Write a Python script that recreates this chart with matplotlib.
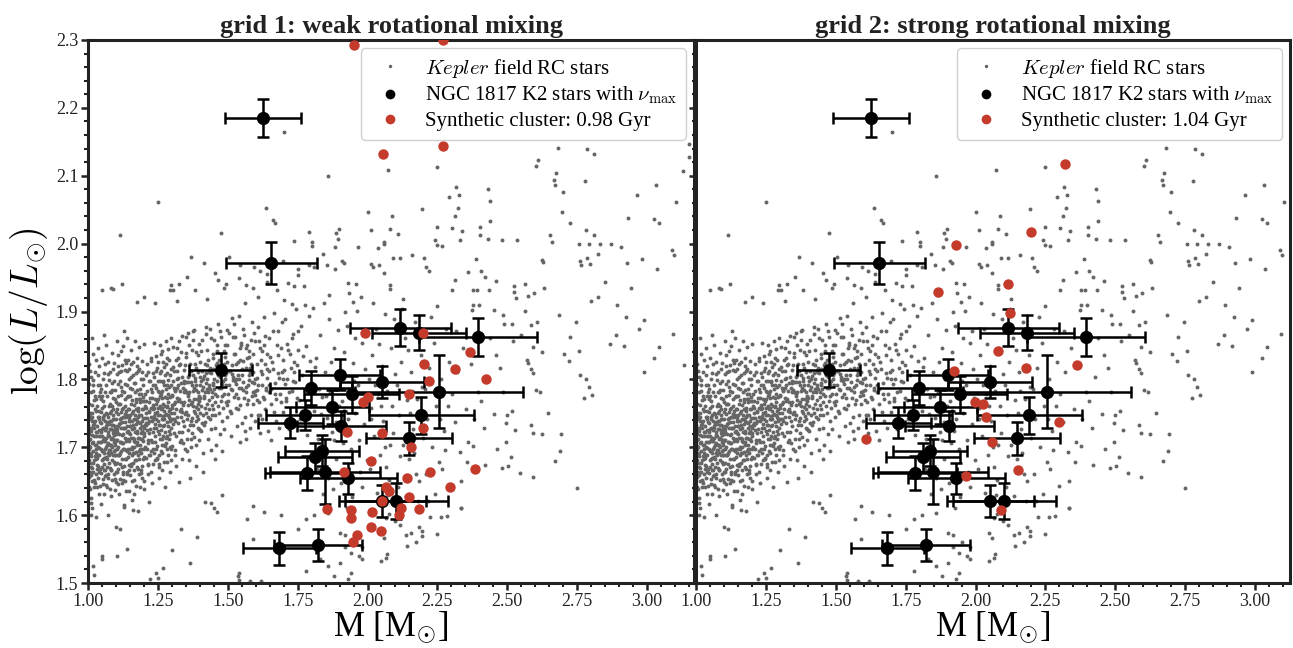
import matplotlib
matplotlib.use("Agg")
import matplotlib.pyplot as plt
from matplotlib.lines import Line2D
from matplotlib.ticker import MultipleLocator, FormatStrFormatter
import numpy as np

plt.rcParams["font.family"] = "serif"
plt.rcParams["font.serif"] = ["Liberation Serif", "DejaVu Serif"]
plt.rcParams["mathtext.fontset"] = "cm"

# NGC 1817 K2 stars with numax: mass, err, log L, err
K2_MASS = [1.627, 1.656, 1.475, 2.117, 2.184, 2.395, 1.900, 2.053, 1.798, 2.256,
           1.944, 1.874, 1.776, 2.193, 1.724, 1.906, 2.149, 1.836, 1.813, 1.785,
           1.848, 1.932, 2.053, 2.103, 1.685, 1.822]
K2_MASS_ERR = [0.136, 0.163, 0.112, 0.180, 0.168, 0.210, 0.145, 0.150, 0.146, 0.300,
               0.170, 0.130, 0.140, 0.188, 0.115, 0.160, 0.154, 0.132, 0.132, 0.150,
               0.196, 0.172, 0.155, 0.185, 0.130, 0.158]
K2_LOGL = [2.185, 1.972, 1.814, 1.876, 1.869, 1.863, 1.807, 1.796, 1.787, 1.782,
           1.778, 1.759, 1.748, 1.747, 1.736, 1.731, 1.713, 1.695, 1.685, 1.662,
           1.664, 1.654, 1.621, 1.621, 1.551, 1.556]
K2_LOGL_ERR = [0.028, 0.031, 0.025, 0.027, 0.026, 0.028, 0.023, 0.024, 0.025, 0.054,
               0.027, 0.025, 0.022, 0.027, 0.023, 0.022, 0.024, 0.023, 0.021, 0.025,
               0.048, 0.023, 0.024, 0.026, 0.024, 0.023]

# synthetic clusters
GRID1_MASS = [1.953, 2.055, 2.271, 2.271, 1.991, 2.197, 2.368, 2.202, 2.314, 2.425,
              2.219, 2.150, 2.000, 1.985, 2.197, 1.926, 2.052, 2.157, 2.011, 2.222,
              2.383, 1.917, 2.143, 2.295, 2.065, 2.077, 2.148, 2.053, 2.119, 2.113,
              2.183, 1.856, 1.940, 1.942, 2.016, 2.014, 2.049, 1.961, 1.947]
GRID1_LOGL = [2.292, 2.132, 2.300, 2.144, 1.869, 1.869, 1.841, 1.823, 1.815, 1.801,
              1.798, 1.779, 1.774, 1.767, 1.729, 1.723, 1.721, 1.700, 1.680, 1.664,
              1.668, 1.664, 1.655, 1.642, 1.641, 1.635, 1.627, 1.621, 1.610, 1.600,
              1.609, 1.609, 1.608, 1.596, 1.604, 1.583, 1.576, 1.571, 1.561]
GRID2_MASS = [2.321, 2.197, 1.931, 2.117, 1.867, 2.125, 2.081, 1.924, 2.181, 2.364,
              1.998, 2.028, 2.036, 2.299, 1.609, 2.060, 2.153, 1.967, 2.092]
GRID2_LOGL = [2.117, 2.017, 1.998, 1.940, 1.928, 1.898, 1.842, 1.813, 1.817, 1.821,
              1.766, 1.763, 1.745, 1.737, 1.712, 1.707, 1.666, 1.657, 1.608]

FIELD_CORE = [
    (1.004,1.702),(1.012,1.671),(1.021,1.734),(1.035,1.688),(1.047,1.752),(1.058,1.713),(1.066,1.659),(1.079,1.727),(1.083,1.781),(1.094,1.695),
    (1.007,1.745),(1.016,1.718),(1.028,1.661),(1.039,1.776),(1.051,1.694),(1.062,1.739),(1.071,1.706),(1.085,1.652),(1.091,1.748),(1.099,1.719),
    (1.003,1.681),(1.019,1.695),(1.024,1.757),(1.033,1.722),(1.044,1.643),(1.055,1.768),(1.068,1.683),(1.074,1.761),(1.088,1.712),(1.097,1.676),
    (1.009,1.728),(1.014,1.651),(1.027,1.704),(1.038,1.741),(1.049,1.671),(1.060,1.725),(1.064,1.792),(1.077,1.669),(1.086,1.733),(1.095,1.784),
    (1.002,1.764),(1.018,1.783),(1.031,1.674),(1.042,1.708),(1.053,1.646),(1.063,1.701),(1.072,1.745),(1.081,1.691),(1.092,1.661),(1.098,1.731),
    (1.006,1.638),(1.015,1.738),(1.025,1.687),(1.036,1.654),(1.046,1.723),(1.057,1.684),(1.069,1.734),(1.078,1.704),(1.089,1.772),(1.096,1.707),
    (1.011,1.691),(1.022,1.769),(1.029,1.716),(1.041,1.699),(1.050,1.758),(1.061,1.666),(1.073,1.718),(1.082,1.753),(1.090,1.689),(1.099,1.664),
    (1.005,1.719),(1.013,1.706),(1.026,1.648),(1.034,1.792),(1.045,1.735),(1.056,1.709),(1.067,1.775),(1.075,1.688),(1.087,1.701),(1.093,1.741),
    (1.008,1.663),(1.020,1.729),(1.030,1.697),(1.040,1.726),(1.052,1.682),(1.059,1.748),(1.070,1.654),(1.080,1.738),(1.091,1.721),(1.097,1.696),
    (1.004,1.793),(1.017,1.677),(1.032,1.761),(1.043,1.668),(1.054,1.729),(1.065,1.714),(1.076,1.696),(1.084,1.667),(1.092,1.798),(1.100,1.752),
    (1.010,1.625),(1.023,1.641),(1.037,1.806),(1.048,1.786),(1.058,1.631),(1.071,1.808),(1.079,1.639),(1.089,1.815),(1.006,1.812),(1.062,1.822),
    (1.014,1.611),(1.046,1.617),(1.083,1.628),(1.027,1.828),(1.095,1.637),(1.039,1.631),(1.069,1.641),(1.019,1.799),(1.054,1.801),(1.086,1.794),
    (1.001,1.733),(1.009,1.687),(1.016,1.751),(1.024,1.703),(1.031,1.668),(1.038,1.716),(1.045,1.697),(1.052,1.741),(1.059,1.676),(1.066,1.728),
    (1.073,1.692),(1.080,1.764),(1.087,1.681),(1.094,1.724),(1.099,1.767),(1.003,1.656),(1.010,1.742),(1.018,1.663),(1.025,1.776),(1.032,1.731),
    (1.039,1.689),(1.046,1.771),(1.053,1.711),(1.060,1.657),(1.067,1.749),(1.074,1.677),(1.081,1.712),(1.088,1.742),(1.095,1.653),(1.098,1.704),
    (1.005,1.697),(1.012,1.724),(1.019,1.708),(1.026,1.739),(1.033,1.684),(1.040,1.753),(1.047,1.662),(1.054,1.694),(1.061,1.782),(1.068,1.703),
    (1.075,1.734),(1.082,1.667),(1.089,1.726),(1.096,1.689),(1.002,1.747),(1.008,1.712),(1.015,1.669),(1.022,1.716),(1.029,1.753),(1.036,1.701),
    (1.043,1.737),(1.050,1.681),(1.057,1.761),(1.064,1.686),(1.071,1.722),(1.078,1.751),(1.085,1.713),(1.092,1.679),(1.099,1.711),(1.006,1.677),
    (1.013,1.762),(1.020,1.651),(1.027,1.723),(1.034,1.707),(1.041,1.664),(1.048,1.708),(1.055,1.745),(1.062,1.709),(1.069,1.671),(1.076,1.716),
    (1.083,1.739),(1.090,1.757),(1.097,1.727),(1.004,1.726),(1.011,1.659),(1.017,1.791),(1.028,1.682),(1.035,1.744),(1.042,1.781),(1.049,1.727),
    (1.056,1.667),(1.063,1.751),(1.070,1.691),(1.077,1.781),(1.084,1.703),(1.091,1.733),(1.098,1.688),(1.007,1.701),(1.014,1.744),(1.021,1.681),
    (1.030,1.771),(1.037,1.672),(1.044,1.716),(1.051,1.776),(1.058,1.692),(1.065,1.731),(1.072,1.661),(1.079,1.696),(1.086,1.761),(1.093,1.708),
    (1.002,1.641),(1.023,1.652),(1.044,1.792),(1.065,1.645),(1.086,1.784),(1.012,1.781),(1.033,1.641),(1.054,1.653),(1.075,1.799),(1.096,1.771),
    (1.008,1.751),(1.029,1.691),(1.050,1.716),(1.071,1.737),(1.092,1.718),(1.018,1.733),(1.039,1.744),(1.060,1.697),(1.081,1.727),(1.003,1.711),
    (1.103,1.727),(1.112,1.689),(1.118,1.752),(1.126,1.706),(1.134,1.771),(1.141,1.664),(1.149,1.739),(1.158,1.698),(1.166,1.762),(1.174,1.721),
    (1.181,1.683),(1.189,1.748),(1.196,1.709),(1.107,1.668),(1.115,1.741),(1.123,1.783),(1.131,1.728),(1.138,1.695),(1.146,1.757),(1.153,1.676),
    (1.161,1.733),(1.169,1.794),(1.177,1.704),(1.185,1.766),(1.192,1.731),(1.199,1.686),(1.105,1.711),(1.113,1.653),(1.121,1.718),(1.129,1.673),
    (1.136,1.744),(1.144,1.712),(1.151,1.787),(1.159,1.727),(1.167,1.681),(1.175,1.756),(1.183,1.714),(1.190,1.779),(1.198,1.743),(1.109,1.776),
    (1.117,1.708),(1.124,1.661),(1.132,1.749),(1.140,1.731),(1.147,1.692),(1.155,1.803),(1.163,1.709),(1.171,1.742),(1.178,1.668),(1.186,1.729),
    (1.194,1.697),(1.102,1.688),(1.110,1.734),(1.119,1.694),(1.127,1.758),(1.135,1.683),(1.143,1.776),(1.150,1.719),(1.157,1.651),(1.165,1.701),
    (1.173,1.771),(1.180,1.737),(1.188,1.662),(1.195,1.768),(1.106,1.763),(1.114,1.798),(1.122,1.737),(1.130,1.697),(1.139,1.812),(1.145,1.667),
    (1.152,1.748),(1.160,1.691),(1.168,1.722),(1.176,1.785),(1.184,1.694),(1.191,1.712),(1.197,1.801),(1.108,1.646),(1.116,1.676),(1.125,1.729),
    (1.133,1.651),(1.142,1.757),(1.148,1.709),(1.156,1.739),(1.164,1.667),(1.172,1.693),(1.179,1.753),(1.187,1.786),(1.193,1.654),(1.200,1.721),
    (1.104,1.808),(1.121,1.821),(1.137,1.636),(1.154,1.823),(1.170,1.643),(1.182,1.816),(1.199,1.638),(1.111,1.631),(1.144,1.829),(1.162,1.807),
    (1.128,1.612),(1.176,1.832),(1.158,1.622),(1.192,1.827),(1.118,1.842),(1.185,1.641),(1.134,1.814),(1.166,1.631),(1.101,1.649),(1.147,1.635),
    (1.101,1.741),(1.108,1.701),(1.115,1.764),(1.122,1.682),(1.129,1.744),(1.136,1.709),(1.143,1.686),(1.150,1.731),(1.157,1.769),(1.164,1.712),
    (1.171,1.681),(1.178,1.744),(1.185,1.703),(1.192,1.757),(1.199,1.729),(1.104,1.677),(1.111,1.719),(1.118,1.777),(1.125,1.698),(1.132,1.761),
    (1.139,1.723),(1.146,1.674),(1.153,1.763),(1.160,1.714),(1.167,1.748),(1.174,1.707),(1.181,1.771),(1.188,1.721),(1.195,1.683),(1.103,1.756),
    (1.110,1.688),(1.117,1.728),(1.124,1.745),(1.131,1.714),(1.138,1.774),(1.145,1.738),(1.152,1.697),(1.159,1.751),(1.166,1.691),(1.173,1.734),
    (1.180,1.758),(1.187,1.697),(1.194,1.739),(1.107,1.731),(1.114,1.707),(1.121,1.671),(1.128,1.782),(1.135,1.696),(1.142,1.724),(1.149,1.776),
    (1.156,1.688),(1.163,1.741),(1.170,1.766),(1.177,1.724),(1.184,1.748),(1.191,1.691),(1.198,1.774),(1.102,1.664),(1.109,1.749),(1.116,1.692),
    (1.123,1.756),(1.130,1.728),(1.137,1.753),(1.144,1.697),(1.151,1.659),(1.158,1.786),(1.165,1.728),(1.172,1.757),(1.179,1.689),(1.186,1.771),
    (1.193,1.712),(1.200,1.697),(1.106,1.793),(1.113,1.736),(1.120,1.706),(1.127,1.664),(1.134,1.737),(1.141,1.791),(1.148,1.743),(1.155,1.714),
    (1.162,1.677),(1.169,1.708),(1.176,1.739),(1.183,1.779),(1.190,1.667),(1.197,1.756),(1.105,1.722),(1.119,1.789),(1.133,1.682),(1.147,1.801),
    (1.161,1.753),(1.175,1.671),(1.189,1.801),(1.112,1.811),(1.126,1.652),(1.140,1.661),(1.154,1.673),(1.168,1.782),(1.182,1.661),(1.196,1.791),
    (1.103,1.697),(1.117,1.743),(1.131,1.793),(1.145,1.721),(1.159,1.701),(1.173,1.809),(1.187,1.736),(1.110,1.764),(1.124,1.719),(1.138,1.748),
    (1.152,1.732),(1.166,1.794),(1.180,1.713),(1.194,1.724),(1.108,1.819),(1.136,1.824),(1.164,1.652),(1.192,1.673),(1.121,1.647),(1.178,1.812),
    (1.203,1.733),(1.209,1.768),(1.214,1.711),(1.219,1.752),(1.224,1.694),(1.229,1.781),(1.233,1.741),(1.238,1.716),(1.243,1.763),(1.248,1.682),
    (1.252,1.748),(1.257,1.797),(1.262,1.726),(1.266,1.758),(1.271,1.704),(1.276,1.774),(1.281,1.737),(1.286,1.689),(1.291,1.789),(1.296,1.751),
    (1.206,1.684),(1.211,1.743),(1.217,1.798),(1.222,1.727),(1.227,1.664),(1.231,1.756),(1.236,1.803),(1.241,1.734),(1.246,1.702),(1.251,1.771),
    (1.255,1.719),(1.260,1.812),(1.265,1.691),(1.269,1.741),(1.274,1.806),(1.279,1.713),(1.284,1.759),(1.289,1.724),(1.294,1.701),(1.299,1.776),
    (1.204,1.761),(1.213,1.674),(1.218,1.721),(1.226,1.786),(1.232,1.697),(1.237,1.758),(1.244,1.813),(1.249,1.739),(1.254,1.671),(1.259,1.747),
    (1.264,1.783),(1.268,1.716),(1.273,1.753),(1.278,1.822),(1.283,1.697),(1.288,1.767),(1.293,1.741),(1.298,1.816),(1.207,1.807),(1.216,1.661),
    (1.225,1.827),(1.234,1.676),(1.242,1.834),(1.253,1.654),(1.261,1.838),(1.272,1.678),(1.282,1.831),(1.292,1.664),(1.212,1.822),(1.247,1.817),
    (1.228,1.648),(1.263,1.666),(1.287,1.845),(1.235,1.853),(1.275,1.642),(1.201,1.651),(1.258,1.851),(1.239,1.792),(1.267,1.731),(1.297,1.728),
    (1.201,1.716),(1.208,1.751),(1.215,1.736),(1.222,1.772),(1.229,1.707),(1.236,1.746),(1.243,1.788),(1.250,1.724),(1.257,1.761),(1.264,1.703),
    (1.271,1.742),(1.278,1.786),(1.285,1.748),(1.292,1.719),(1.299,1.762),(1.204,1.779),(1.211,1.697),(1.218,1.739),(1.225,1.758),(1.232,1.723),
    (1.239,1.771),(1.246,1.684),(1.253,1.733),(1.260,1.778),(1.267,1.746),(1.274,1.722),(1.281,1.761),(1.288,1.799),(1.295,1.738),(1.203,1.743),
    (1.210,1.726),(1.217,1.766),(1.224,1.711),(1.231,1.791),(1.238,1.751),(1.245,1.729),(1.252,1.797),(1.259,1.712),(1.266,1.773),(1.273,1.733),
    (1.280,1.706),(1.287,1.779),(1.294,1.756),(1.205,1.701),(1.212,1.783),(1.219,1.688),(1.226,1.744),(1.233,1.762),(1.240,1.707),(1.247,1.752),
    (1.254,1.688),(1.261,1.756),(1.268,1.797),(1.275,1.761),(1.282,1.717),(1.289,1.744),(1.296,1.791),(1.202,1.768),(1.209,1.733),(1.216,1.706),
    (1.223,1.797),(1.230,1.738),(1.237,1.692),(1.244,1.741),(1.251,1.758),(1.258,1.733),(1.265,1.712),(1.272,1.791),(1.279,1.749),(1.286,1.731),
    (1.293,1.774),(1.300,1.741),(1.207,1.758),(1.221,1.689),(1.235,1.728),(1.249,1.783),(1.263,1.741),(1.277,1.702),(1.291,1.753),(1.214,1.811),
    (1.228,1.773),(1.242,1.697),(1.256,1.776),(1.270,1.763),(1.284,1.809),(1.298,1.698),(1.206,1.736),(1.220,1.754),(1.234,1.809),(1.248,1.768),
    (1.262,1.694),(1.276,1.747),(1.290,1.712),(1.213,1.675),(1.241,1.681),(1.269,1.826),(1.297,1.681),(1.227,1.832),(1.255,1.676),(1.283,1.679),
    (1.302,1.758),(1.308,1.721),(1.313,1.783),(1.318,1.745),(1.323,1.802),(1.328,1.707),(1.334,1.767),(1.339,1.739),(1.344,1.814),(1.349,1.752),
    (1.354,1.694),(1.359,1.778),(1.364,1.733),(1.369,1.796),(1.374,1.761),(1.379,1.715),(1.384,1.823),(1.389,1.771),(1.394,1.742),(1.399,1.791),
    (1.305,1.797),(1.311,1.688),(1.316,1.829),(1.321,1.736),(1.326,1.771),(1.331,1.841),(1.337,1.723),(1.342,1.781),(1.347,1.697),(1.352,1.833),
    (1.357,1.748),(1.362,1.806),(1.367,1.712),(1.372,1.844),(1.377,1.783),(1.382,1.751),(1.387,1.704),(1.392,1.811),(1.397,1.727),(1.303,1.848),
    (1.314,1.672),(1.327,1.856),(1.338,1.682),(1.351,1.862),(1.363,1.681),(1.376,1.858),(1.388,1.672),(1.396,1.852),(1.319,1.812),(1.345,1.766),
    (1.358,1.726),(1.371,1.791),(1.385,1.738),(1.309,1.741),(1.333,1.795),(1.356,1.869),(1.381,1.873),(1.366,1.654),(1.324,1.649),(1.393,1.763),
    (1.301,1.777),(1.308,1.751),(1.315,1.716),(1.322,1.791),(1.329,1.754),(1.336,1.803),(1.343,1.731),(1.350,1.782),(1.357,1.762),(1.364,1.812),
    (1.371,1.743),(1.378,1.787),(1.385,1.759),(1.392,1.728),(1.399,1.803),(1.406,1.761),(1.413,1.789),(1.420,1.737),(1.427,1.801),(1.434,1.769),
    (1.441,1.809),(1.448,1.757),(1.304,1.734),(1.311,1.766),(1.318,1.801),(1.325,1.722),(1.332,1.744),(1.339,1.788),(1.346,1.749),(1.353,1.712),
    (1.360,1.769),(1.367,1.738),(1.374,1.806),(1.381,1.771),(1.388,1.791),(1.395,1.756),(1.402,1.726),(1.409,1.812),(1.416,1.776),(1.423,1.751),
    (1.430,1.829),(1.437,1.741),(1.444,1.781),(1.306,1.813),(1.313,1.738),(1.320,1.773),(1.327,1.821),(1.334,1.711),(1.341,1.762),(1.348,1.821),
    (1.355,1.741),(1.362,1.781),(1.369,1.764),(1.376,1.733),(1.383,1.802),(1.390,1.746),(1.397,1.776),(1.404,1.797),(1.411,1.747),(1.418,1.822),
    (1.425,1.764),(1.432,1.792),(1.439,1.727),(1.446,1.838),(1.302,1.702),(1.316,1.757),(1.330,1.783),(1.344,1.794),(1.358,1.803),(1.372,1.721),
    (1.386,1.817),(1.400,1.751),(1.414,1.733),(1.428,1.782),(1.442,1.762),(1.309,1.787),(1.323,1.831),(1.337,1.752),(1.351,1.796),(1.365,1.822),
    (1.379,1.753),(1.393,1.836),(1.407,1.785),(1.421,1.794),(1.435,1.813),(1.449,1.791),(1.312,1.696),(1.340,1.706),(1.368,1.701),(1.396,1.711),
    (1.402,1.773),(1.408,1.736),(1.414,1.805),(1.419,1.758),(1.425,1.821),(1.431,1.712),(1.436,1.786),(1.442,1.748),(1.447,1.832),(1.453,1.766),
    (1.458,1.703),(1.463,1.797),(1.469,1.751),(1.474,1.816),(1.479,1.739),(1.485,1.779),(1.491,1.851),(1.496,1.762),(1.405,1.842),(1.411,1.691),
    (1.417,1.782),(1.423,1.867),(1.428,1.744),(1.434,1.811),(1.439,1.696),(1.444,1.774),(1.451,1.858),(1.456,1.729),(1.461,1.824),(1.467,1.787),
    (1.472,1.719),(1.477,1.862),(1.483,1.798),(1.488,1.727),(1.494,1.809),(1.499,1.744),(1.406,1.724),(1.421,1.877),(1.438,1.874),(1.455,1.683),
    (1.466,1.881),(1.481,1.694),(1.497,1.873),(1.413,1.664),(1.448,1.794),(1.475,1.768),(1.432,1.757),(1.489,1.833),
]

# upper edge of the clump and its arm towards higher mass
FIELD_ARM = [
    (1.003,1.823),(1.011,1.804),(1.019,1.838),(1.026,1.811),(1.034,1.846),(1.041,1.819),(1.049,1.832),(1.057,1.809),(1.064,1.851),(1.072,1.826),
    (1.079,1.811),(1.087,1.839),(1.094,1.824),(1.102,1.857),(1.109,1.836),(1.117,1.812),(1.124,1.849),(1.132,1.829),(1.139,1.861),(1.147,1.815),
    (1.154,1.843),(1.162,1.826),(1.169,1.856),(1.177,1.819),(1.184,1.847),(1.192,1.811),(1.199,1.852),(1.015,1.861),(1.058,1.866),(1.128,1.871),
    (1.252,1.826),(1.258,1.809),(1.265,1.842),(1.271,1.818),(1.278,1.857),(1.284,1.791),(1.291,1.829),(1.297,1.861),(1.304,1.818),(1.310,1.784),
    (1.317,1.846),(1.323,1.768),(1.330,1.822),(1.336,1.864),(1.343,1.797),(1.349,1.839),(1.356,1.776),(1.362,1.851),(1.369,1.813),(1.375,1.871),
    (1.382,1.797),(1.388,1.841),(1.395,1.781),(1.401,1.826),(1.408,1.858),(1.414,1.772),(1.421,1.809),(1.427,1.844),(1.434,1.788),(1.440,1.861),
    (1.447,1.816),(1.453,1.779),(1.460,1.842),(1.466,1.806),(1.473,1.871),(1.479,1.793),(1.486,1.823),(1.492,1.766),(1.499,1.851),(1.505,1.812),
    (1.512,1.786),(1.518,1.862),(1.525,1.797),(1.531,1.823),(1.538,1.772),(1.544,1.846),(1.551,1.816),(1.557,1.866),(1.564,1.789),(1.570,1.851),
    (1.577,1.799),(1.583,1.822),(1.590,1.781),(1.596,1.857),(1.603,1.823),(1.609,1.791),(1.616,1.846),(1.622,1.808),(1.629,1.771),(1.635,1.864),
    (1.642,1.816),(1.648,1.781),(1.255,1.781),(1.268,1.796),(1.281,1.773),(1.294,1.806),(1.307,1.763),(1.320,1.787),(1.333,1.756),(1.346,1.784),
    (1.359,1.796),(1.372,1.766),(1.385,1.784),(1.398,1.768),(1.411,1.801),(1.424,1.786),(1.437,1.817),(1.450,1.801),(1.463,1.776),(1.476,1.788),
    (1.489,1.801),(1.502,1.779),(1.515,1.808),(1.528,1.793),(1.541,1.801),(1.554,1.796),(1.567,1.781),(1.580,1.811),(1.593,1.794),(1.606,1.769),
]

FIELD_TAIL = [
    (1.452,1.786),(1.459,1.821),(1.466,1.761),(1.473,1.804),(1.480,1.776),(1.487,1.842),(1.494,1.791),(1.501,1.768),(1.508,1.813),(1.515,1.784),
    (1.522,1.838),(1.529,1.801),(1.536,1.757),(1.543,1.829),(1.550,1.807),(1.557,1.772),(1.564,1.846),(1.571,1.792),(1.578,1.817),(1.585,1.776),
    (1.592,1.838),(1.599,1.801),(1.606,1.784),(1.613,1.856),(1.620,1.812),(1.627,1.774),(1.634,1.823),(1.641,1.802),(1.648,1.861),(1.655,1.786),
    (1.662,1.816),(1.669,1.779),(1.676,1.851),(1.683,1.802),(1.690,1.767),(1.697,1.828),(1.704,1.793),(1.711,1.852),(1.718,1.781),(1.725,1.817),
    (1.732,1.867),(1.739,1.796),(1.746,1.772),(1.456,1.748),(1.470,1.829),(1.484,1.758),(1.498,1.826),(1.512,1.751),(1.526,1.862),(1.540,1.788),
    (1.554,1.827),(1.568,1.764),(1.582,1.858),(1.596,1.783),(1.610,1.748),(1.624,1.842),(1.638,1.787),(1.652,1.833),(1.666,1.752),(1.680,1.871),
    (1.694,1.811),(1.708,1.768),(1.722,1.838),(1.736,1.811),(1.750,1.844),(1.463,1.851),(1.491,1.806),(1.519,1.803),(1.547,1.851),(1.575,1.833),
    (1.503,1.792),(1.509,1.753),(1.515,1.821),(1.521,1.774),(1.527,1.838),(1.533,1.731),(1.538,1.806),(1.544,1.762),(1.549,1.853),(1.555,1.784),
    (1.561,1.724),(1.566,1.817),(1.572,1.769),(1.577,1.842),(1.583,1.747),(1.588,1.796),(1.594,1.868),(1.599,1.777),(1.506,1.869),(1.512,1.717),
    (1.518,1.799),(1.524,1.881),(1.531,1.758),(1.537,1.826),(1.543,1.707),(1.548,1.788),(1.556,1.874),(1.562,1.744),(1.569,1.831),(1.575,1.807),
    (1.581,1.728),(1.586,1.884),(1.592,1.811),(1.597,1.739),(1.514,1.891),(1.541,1.894),(1.567,1.712),(1.589,1.763),(1.528,1.779),(1.552,1.736),
    (1.604,1.802),(1.611,1.766),(1.618,1.828),(1.624,1.741),(1.631,1.851),(1.637,1.784),(1.643,1.724),(1.649,1.812),(1.656,1.763),(1.662,1.871),
    (1.668,1.794),(1.674,1.738),(1.681,1.836),(1.687,1.779),(1.693,1.884),(1.698,1.752),(1.607,1.877),(1.614,1.721),(1.621,1.791),(1.628,1.892),
    (1.635,1.757),(1.641,1.838),(1.647,1.791),(1.654,1.711),(1.659,1.826),(1.666,1.898),(1.672,1.771),(1.679,1.809),(1.685,1.729),(1.691,1.846),
    (1.697,1.801),(1.617,1.748),
    (1.703,1.814),(1.709,1.772),(1.716,1.843),(1.722,1.748),(1.729,1.861),(1.735,1.797),(1.742,1.733),(1.748,1.821),(1.754,1.769),(1.761,1.879),
    (1.767,1.806),(1.773,1.751),(1.779,1.849),(1.786,1.787),(1.792,1.893),(1.798,1.761),(1.706,1.889),(1.719,1.727),(1.731,1.783),(1.744,1.903),
    (1.757,1.741),(1.769,1.835),(1.782,1.718),(1.794,1.827),(1.712,1.801),(1.751,1.871),(1.776,1.909),(1.738,1.826),
    (1.803,1.794),(1.809,1.753),(1.816,1.832),(1.822,1.712),(1.829,1.866),(1.836,1.774),(1.842,1.694),(1.848,1.811),(1.855,1.743),(1.861,1.889),
    (1.867,1.782),(1.873,1.722),(1.879,1.846),(1.886,1.683),(1.892,1.801),(1.898,1.761),(1.806,1.905),(1.819,1.668),(1.832,1.749),(1.845,1.912),
    (1.857,1.654),(1.869,1.826),(1.881,1.711),(1.894,1.873),(1.813,1.818),(1.851,1.776),(1.876,1.638),(1.839,1.631),(1.888,1.737),(1.826,1.786),
    (1.903,1.812),(1.909,1.768),(1.915,1.841),(1.922,1.724),(1.928,1.879),(1.935,1.786),(1.941,1.698),(1.947,1.824),(1.954,1.751),(1.961,1.901),
    (1.967,1.791),(1.973,1.664),(1.979,1.853),(1.986,1.734),(1.992,1.816),(1.998,1.681),(1.906,1.648),(1.918,1.899),(1.931,1.742),(1.944,1.626),
    (1.957,1.861),(1.969,1.711),(1.982,1.641),(1.994,1.772),(1.911,1.706),(1.951,1.797),(1.976,1.922),(1.938,1.657),(1.989,1.871),(1.925,1.611),
    (2.004,1.801),(2.011,1.758),(2.017,1.836),(2.024,1.716),(2.031,1.874),(2.037,1.778),(2.044,1.689),(2.051,1.819),(2.057,1.738),(2.064,1.896),
    (2.071,1.783),(2.077,1.652),(2.084,1.846),(2.091,1.721),(2.097,1.808),(2.008,1.668),(2.021,1.913),(2.034,1.633),(2.047,1.761),(2.061,1.701),
    (2.074,1.629),(2.088,1.761),(2.014,1.741),(2.041,1.852),(2.067,1.671),(2.094,1.889),(2.027,1.791),(2.081,1.703),
    (2.104,1.792),(2.112,1.748),(2.119,1.826),(2.126,1.703),(2.133,1.861),(2.141,1.769),(2.148,1.682),(2.156,1.811),(2.163,1.727),(2.171,1.884),
    (2.178,1.771),(2.185,1.651),(2.193,1.836),(2.199,1.714),(2.108,1.641),(2.122,1.904),(2.137,1.628),(2.152,1.751),(2.167,1.691),(2.182,1.621),
    (2.196,1.789),(2.116,1.687),(2.144,1.843),(2.174,1.661),(2.159,1.783),
    (2.204,1.786),(2.213,1.742),(2.221,1.817),(2.229,1.701),(2.238,1.853),(2.246,1.761),(2.255,1.679),(2.263,1.801),(2.272,1.724),(2.281,1.874),
    (2.289,1.761),(2.298,1.643),(2.209,1.661),(2.226,1.892),(2.243,1.631),(2.259,1.741),(2.277,1.696),(2.293,1.826),(2.217,1.621),(2.267,1.668),
    (2.304,1.779),(2.313,1.737),(2.322,1.811),(2.331,1.693),(2.341,1.846),(2.351,1.756),(2.361,1.707),(2.371,1.822),(2.381,1.741),(2.391,1.869),
    (2.397,1.781),(2.318,1.871),(2.336,1.651),(2.357,1.678),(2.377,1.702),(2.333,1.611),
    (2.405,1.768),(2.416,1.728),(2.428,1.804),(2.439,1.861),(2.451,1.749),(2.462,1.697),(2.473,1.817),(2.484,1.781),(2.495,1.736),(2.421,1.674),
    (2.458,1.836),(2.487,1.881),
    (2.516,1.882),(2.548,1.866),(2.522,1.857),(2.591,1.847),(2.626,1.841),(2.572,1.829),(2.575,1.824),(2.585,1.815),(2.593,1.810),(2.617,1.781),
    (2.602,1.785),(2.647,1.751),(2.518,1.753),(2.500,1.748),(2.528,1.726),(2.584,1.733),(2.592,1.721),(2.625,1.719),(2.693,1.719),(2.687,1.695),
    (2.671,1.680),(2.504,1.672),(2.482,1.669),(2.494,1.707),(2.512,1.686),(2.545,1.662),(2.592,1.656),(2.750,1.640),(2.452,1.902),(2.486,1.895),
    (2.565,1.901),(2.607,1.884),(2.586,1.880),(2.686,1.895),(2.745,1.885),
    (2.703,1.837),(2.721,1.827),(2.725,1.862),(2.755,1.842),(2.761,1.806),(2.773,1.773),(2.781,1.801),(2.792,1.789),(2.802,1.777),(2.868,1.852),
    (2.888,1.866),(2.919,1.849),(2.971,1.874),(2.988,1.888),(3.043,1.847),(3.025,1.832),(3.092,1.867),(3.134,1.821),(2.989,1.811),(2.925,1.892),
]

FIELD_UPPER = [
    (1.703,2.164),(1.860,2.100),(1.252,2.062),(1.636,2.053),(1.663,2.035),(1.669,2.030),(2.003,2.046),(1.113,2.013),(1.477,2.015),(1.790,2.017),
    (1.888,2.015),(1.898,2.021),(1.895,2.007),(2.011,2.020),(1.737,2.004),(1.800,2.002),(1.803,1.997),(1.966,1.995),(2.060,2.000),(1.368,1.980),
    (1.505,1.980),(1.416,1.972),(1.839,1.984),(2.036,1.994),(1.698,1.975),(1.882,1.995),(1.910,1.975),(1.917,1.972),(1.545,1.968),(1.595,1.965),
    (1.615,1.960),(1.750,1.962),(1.751,1.954),(1.790,1.969),(1.810,1.966),(1.856,1.969),(1.885,1.963),(2.012,1.970),(2.021,1.966),(2.040,1.968),
    (2.060,1.956),(1.453,1.956),(1.465,1.947),(1.353,1.951),(1.540,1.950),(1.567,1.939),(1.590,1.935),(1.640,1.955),(1.641,1.944),(1.675,1.932),
    (1.717,1.942),(1.737,1.938),(1.773,1.937),(1.932,1.942),(1.960,1.941),(1.933,1.927),(1.296,1.939),(1.326,1.940),(1.295,1.932),(1.305,1.931),
    (1.382,1.931),(1.486,1.934),(1.492,1.940),(1.051,1.931),(1.084,1.934),(1.089,1.933),(1.120,1.940),(1.176,1.914),(1.202,1.921),(1.240,1.913),
    (1.318,1.916),(1.426,1.918),(1.561,1.912),(1.607,1.921),(1.702,1.917),(1.729,1.911),(1.862,1.925),(1.947,1.914),
    (2.074,2.109),(2.247,2.113),(2.604,2.115),(2.611,2.123),(2.673,2.104),(2.668,2.094),(2.670,2.087),(2.778,2.092),(3.130,2.107),(3.150,2.147),
    (3.152,2.128),(2.810,2.132),(2.786,2.140),(2.680,2.141),(2.315,2.084),(2.291,2.068),(2.327,2.071),(2.325,2.053),(2.312,2.041),(2.431,2.080),
    (2.438,2.063),(2.440,2.034),(2.089,2.041),(2.196,2.051),(2.699,2.076),(2.696,2.047),(2.723,2.031),(2.966,2.071),(3.031,2.087),(3.102,2.062),
    (2.059,2.003),(2.109,2.014),(2.080,2.022),(2.250,2.024),(2.303,2.023),(2.339,2.019),(2.332,2.006),(2.241,2.006),(2.249,1.998),(2.268,1.996),
    (2.401,2.024),(2.401,2.012),(2.430,2.007),(2.482,2.006),(2.534,2.005),(2.652,2.012),(2.659,2.002),(2.755,1.999),(2.782,2.020),(2.812,2.012),
    (2.794,1.999),(2.833,2.000),(2.826,1.985),(2.871,2.000),(2.908,1.995),(2.932,2.038),(3.026,2.036),(3.044,2.031),(3.090,1.991),(3.097,1.983),
    (2.983,1.978),(2.927,1.971),(3.034,1.963),(2.090,1.979),(2.116,1.979),(2.160,1.983),(2.203,1.979),(2.210,1.965),(2.220,1.959),(2.387,1.978),
    (2.405,1.960),(2.419,1.951),(2.359,1.958),(2.313,1.946),(2.303,1.932),(2.376,1.932),(2.393,1.932),(2.434,1.932),(2.460,1.945),(2.523,1.938),
    (2.524,1.928),(2.564,1.940),(2.576,1.923),(2.597,1.927),(2.633,1.935),(2.623,1.976),(2.628,1.973),(2.760,1.975),(2.765,1.969),(2.786,1.979),
    (2.795,1.970),(2.848,1.944),(2.942,1.935),(2.799,1.915),(2.823,1.922),(2.891,1.910),(2.081,1.939),(2.082,1.933),
    (2.127,1.918),(2.247,1.908),(2.379,1.910),(2.399,1.910),(2.374,1.902),(2.530,1.920),(2.710,2.238),(2.580,2.185),(3.050,2.190),
]

FIELD_LOWER = [
    (1.017,1.525),(1.049,1.540),(1.051,1.535),(1.102,1.540),(1.141,1.550),(1.116,1.579),(1.100,1.583),(1.180,1.606),(1.218,1.620),(1.300,1.549),
    (1.334,1.579),(1.366,1.530),(1.391,1.568),(1.270,1.522),(1.244,1.514),(1.222,1.506),(1.420,1.620),(1.440,1.618),(1.450,1.610),(1.460,1.604),
    (1.480,1.630),(1.538,1.510),(1.541,1.505),(1.620,1.503),(1.590,1.565),(1.570,1.594),(1.590,1.613),(1.630,1.604),(1.690,1.600),(1.750,1.580),
    (1.780,1.594),(1.810,1.600),(1.860,1.603),(1.830,1.535),(1.860,1.525),(1.880,1.510),(1.900,1.530),(1.920,1.553),(1.940,1.544),(1.950,1.560),
    (1.970,1.540),(1.980,1.535),(1.982,1.553),(1.900,1.574),(1.920,1.570),(1.010,1.600),(1.030,1.597),(1.010,1.618),(1.160,1.607),(1.130,1.615),
    (1.070,1.600),(1.020,1.512),(1.250,1.508),(1.540,1.515),(1.580,1.503),(1.780,1.518),(1.930,1.506),(1.940,1.514),
    (2.047,1.574),(2.060,1.566),(2.070,1.542),(2.065,1.537),(2.050,1.533),(2.136,1.571),(2.154,1.574),(2.196,1.576),(2.194,1.569),(2.250,1.572),
    (2.140,1.554),(2.175,1.561),(2.184,1.582),(2.115,1.585),(2.098,1.592),(2.077,1.601),(2.067,1.596),(2.333,1.610),(2.262,1.597),(2.286,1.598),
    (2.224,1.597),
]

FIELD_COLOR = "#666666"
RED = "#c43b2c"


def draw_panel(ax, syn_mass, syn_logl, title, age, xmax):
    field = np.array(FIELD_CORE + FIELD_ARM + FIELD_TAIL + FIELD_UPPER + FIELD_LOWER)
    ax.scatter(field[:, 0], field[:, 1], s=8, c=FIELD_COLOR, linewidths=0, zorder=1)
    ax.errorbar(K2_MASS, K2_LOGL, xerr=K2_MASS_ERR, yerr=K2_LOGL_ERR, fmt="o",
                color="k", ms=8.5, elinewidth=1.8, capsize=4, capthick=1.8, zorder=2)
    ax.plot(syn_mass, syn_logl, "o", color=RED, ms=7.5, mew=0, zorder=3)

    ax.set_xlim(1.0, xmax)
    ax.set_ylim(1.5, 2.3)
    ax.xaxis.set_major_locator(MultipleLocator(0.25))
    ax.xaxis.set_minor_locator(MultipleLocator(0.05))
    ax.yaxis.set_major_locator(MultipleLocator(0.1))
    ax.yaxis.set_minor_locator(MultipleLocator(0.02))
    ax.xaxis.set_major_formatter(FormatStrFormatter("%.2f"))
    ax.yaxis.set_major_formatter(FormatStrFormatter("%.1f"))
    ax.tick_params(which="major", direction="out", length=5, width=1.8, labelsize=13,
                   colors="#222222", labelcolor="#222222", pad=2)
    ax.tick_params(which="minor", direction="out", length=3, width=1.5, colors="#222222")
    for sp in ax.spines.values():
        sp.set_linewidth(2.2)
        sp.set_color("#222222")
    ax.set_xlabel(r"M [M$_{\odot}$]", fontsize=25, labelpad=0)
    ax.set_title(title, fontsize=19, fontweight="bold", pad=5, color="#222222")

    handles = [
        Line2D([], [], ls="", marker="o", ms=2.5, color=FIELD_COLOR, mew=0),
        Line2D([], [], ls="", marker="o", ms=7, color="k", mew=0),
        Line2D([], [], ls="", marker="o", ms=7, color=RED, mew=0),
    ]
    labels = [r"$Kepler$ field RC stars",
              r"NGC 1817 K2 stars with $\nu_{\rm max}$",
              f"Synthetic cluster: {age} Gyr"]
    leg = ax.legend(handles, labels, loc="upper right", fontsize=15, frameon=True,
                    fancybox=True, framealpha=1.0, edgecolor="#d0d0d0",
                    borderaxespad=0.4, handletextpad=0.7, labelspacing=0.25)
    leg.get_frame().set_linewidth(1.0)
    leg.set_zorder(5)


fig = plt.figure(figsize=(12.93, 6.48), dpi=100)
ax1 = fig.add_axes([88 / 1293, 65 / 648, 606 / 1293, 543 / 648])
ax2 = fig.add_axes([696 / 1293, 65 / 648, 594 / 1293, 543 / 648])

draw_panel(ax1, GRID1_MASS, GRID1_LOGL, "grid 1: weak rotational mixing", "0.98", 1.0 + 606 / 279.5)
draw_panel(ax2, GRID2_MASS, GRID2_LOGL, "grid 2: strong rotational mixing", "1.04", 1.0 + 594 / 279.5)

ax1.set_ylabel(r"$\log(L/L_{\odot})$", fontsize=27, labelpad=4)
ax2.tick_params(axis="y", labelleft=False)

fig.savefig("out.png", dpi=100)
